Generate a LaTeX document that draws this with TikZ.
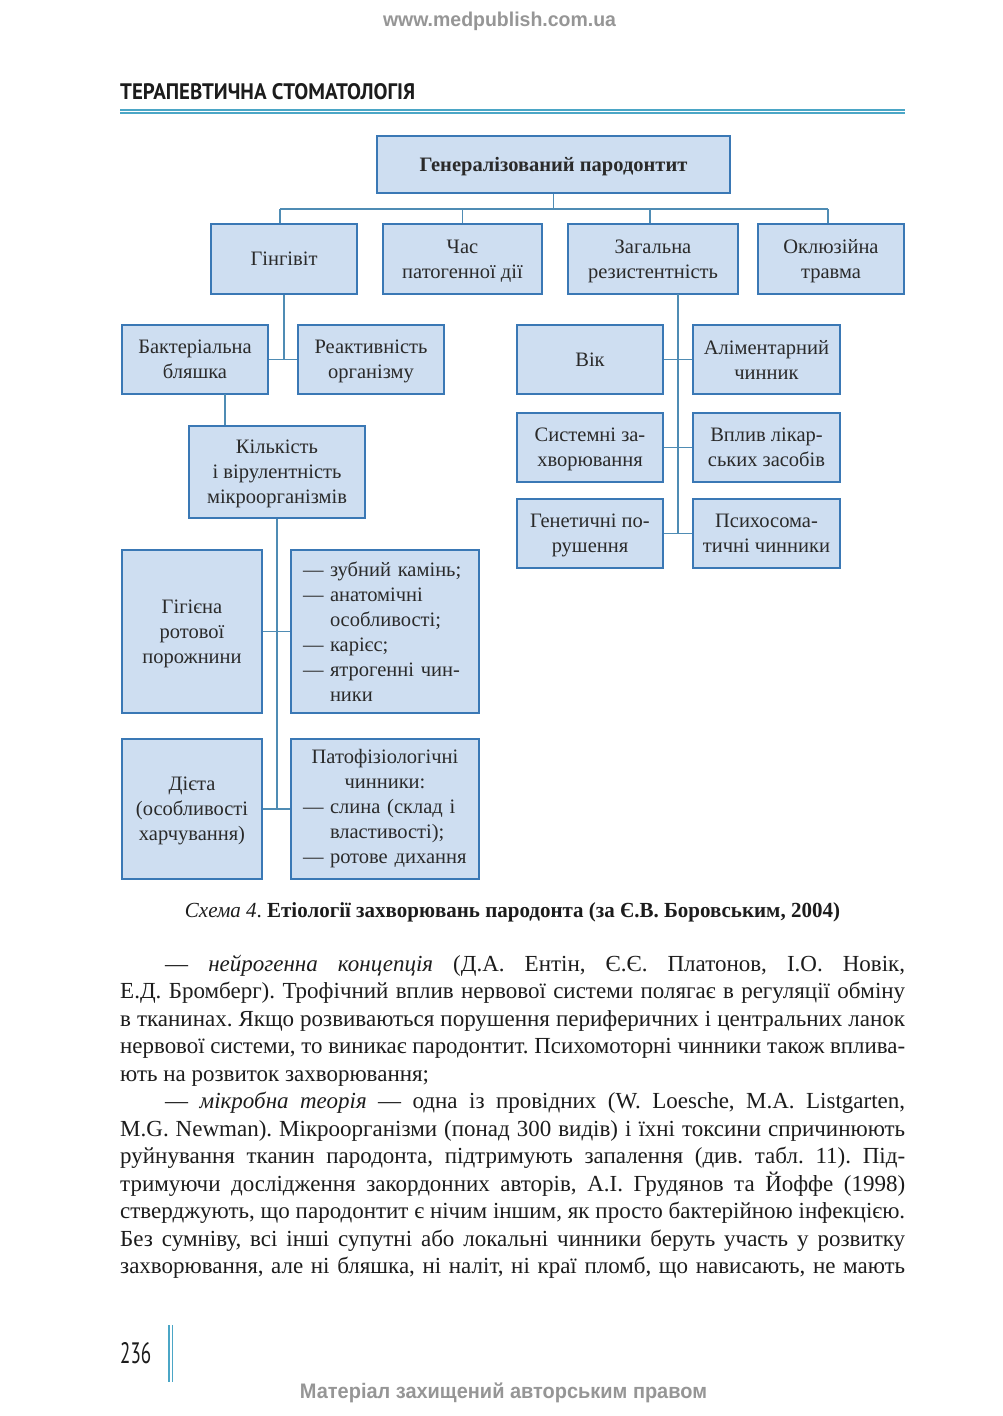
\documentclass[tikz,border=0pt]{standalone}
\usepackage{fontspec}
\usepackage{graphicx}
\setmainfont{Liberation Serif}
\setsansfont{Liberation Sans}
\newfontfamily\headfont{PT Sans}
\newfontfamily\bodyfont{Liberation Serif}
\frenchspacing
\definecolor{boxfill}{HTML}{CEDEF1}
\definecolor{boxborder}{HTML}{3A78B5}
\definecolor{connc}{HTML}{4F8CB4}
\definecolor{rulec}{HTML}{4BA6C6}
\definecolor{wmgray}{HTML}{969696}
\definecolor{dtext}{HTML}{2A2A2A}
\definecolor{bodyc}{HTML}{1C1C1C}
\newcommand\dfont{\fontsize{20.5}{25}\selectfont\frenchspacing}
\newcommand\btext{\bodyfont\fontsize{23}{27.5}\selectfont\frenchspacing}
\newlength\jw
\newcommand\jl[2]{\settowidth\jw{#2}\ifdim\jw>#1\relax\resizebox{#1}{\height}{#2}\else\makebox[#1][s]{#2}\fi}
\newcommand\dl{\makebox[27pt][l]{—}}
\newcommand\hg{\hspace*{27pt}}
\tikzset{
  boxbase/.style={draw=boxborder, fill=boxfill, line width=1.4pt, inner sep=0pt, font=\dfont, text=dtext},
  box/.style={boxbase, align=center, text depth=0pt},
  lbox/.style={boxbase, text width=164pt, align=left},
  conn/.style={draw=connc, line width=1.3pt},
  bline/.style={anchor=base west, inner sep=0pt, font=\btext, text=bodyc},
}
\begin{document}
\begin{tikzpicture}[x=1pt,y=-1pt]
\fill[white] (0,0) rectangle (1003,1416);
\useasboundingbox (0,0) rectangle (1003,1416);

% page furniture
\node[anchor=base, inner sep=0pt, text=wmgray] (wm) at (499.5,27) {\resizebox{233pt}{\height}{\fontsize{20}{20}\sffamily\bfseries www.medpublish.com.ua}};
\node[anchor=base west, inner sep=0pt, text=bodyc] (hdr) at (120,99) {\resizebox{295pt}{16pt}{\headfont\bfseries ТЕРАПЕВТИЧНА СТОМАТОЛОГІЯ}};
\draw[rulec, line width=2pt] (120,109.5) -- (905,109.5);
\draw[rulec, line width=2pt] (120,113.4) -- (905,113.4);

% diagram boxes
\node[box, minimum width=353pt, minimum height=57pt] (top) at (553.5,164.5) {\bfseries Генералізований пародонтит};
\node[box, minimum width=146pt, minimum height=70pt] (ging) at (284,259) {Гінгівіт};
\node[box, minimum width=159pt, minimum height=70pt] (chas) at (462.5,259) {Час\\патогенної дії};
\node[box, minimum width=170pt, minimum height=70pt] (zag) at (653,259) {Загальна\\резистентність};
\node[box, minimum width=146pt, minimum height=70pt] (okl) at (831,259) {Оклюзійна\\травма};

\node[box, minimum width=146pt, minimum height=69pt] (bakt) at (195,359.5) {Бактеріальна\\бляшка};
\node[box, minimum width=146pt, minimum height=69pt] (reakt) at (371,359.5) {Реактивність\\організму};
\node[box, minimum width=176pt, minimum height=92pt] (kilk) at (277,472) {Кількість\\і вірулентність\\мікроорганізмів};

\node[box, minimum width=140pt, minimum height=163pt] (gig) at (192,631.5) {Гігієна\\ротової\\порожнини};
\node[lbox, minimum width=188pt, minimum height=163pt] (list) at (385,631.5)
  {\dl зубний камінь;\\\dl анатомічні\\\hg особливості;\\\dl карієс;\\\dl ятрогенні чин-\\\hg ники};
\node[box, minimum width=140pt, minimum height=140pt] (dieta) at (192,809) {Дієта\\(особливості\\харчування)};
\node[lbox, minimum width=188pt, minimum height=140pt] (pato) at (385,809)
  {\makebox[164pt]{Патофізіологічні}\\\makebox[164pt]{чинники:}\\\dl слина (склад і\\\hg властивості);\\\dl ротове дихання};

\node[box, minimum width=146pt, minimum height=69pt] (vik) at (590,359.5) {Вік};
\node[box, minimum width=147pt, minimum height=69pt] (alim) at (766.5,359.5) {Аліментарний\\чинник};
\node[box, minimum width=146pt, minimum height=69pt] (sys) at (590,447.5) {Системні за-\\хворювання};
\node[box, minimum width=147pt, minimum height=69pt] (vpl) at (766.5,447.5) {Вплив лікар-\\ських засобів};
\node[box, minimum width=146pt, minimum height=69pt] (gen) at (590,533.5) {Генетичні по-\\рушення};
\node[box, minimum width=147pt, minimum height=69pt] (psy) at (766.5,533.5) {Психосома-\\тичні чинники};

% connectors
\coordinate (bL) at (280,209);
\coordinate (bR) at (828,209);
\coordinate (bZ) at (650,209);
\draw[conn] (bL) -- (bR);
\draw[conn] (top.south) -- (top.south |- bL);
\draw[conn] (bL) -- (bL |- ging.north);
\draw[conn] (chas.north) -- (chas.north |- bL);
\draw[conn] (bZ) -- (bZ |- zag.north);
\draw[conn] (bR) -- (bR |- okl.north);

\draw[conn] (ging.south) -- (ging.south |- bakt.east);
\draw[conn] (bakt.east) -- (reakt.west);
\coordinate (bk) at (225,394);
\draw[conn] (bk) -- (bk |- kilk.north);
\draw[conn] (kilk.south) -- (kilk.south |- dieta.east);
\draw[conn] (gig.east) -- (list.west);
\draw[conn] (dieta.east) -- (pato.west);

\coordinate (zr) at (678,294);
\draw[conn] (zr) -- (zr |- gen.east);
\draw[conn] (vik.east) -- (alim.west);
\draw[conn] (sys.east) -- (vpl.west);
\draw[conn] (gen.east) -- (psy.west);

% caption
\node[anchor=base, inner sep=0pt, text=bodyc] (cap) at (512.5,917) {\resizebox{655pt}{\height}{\bodyfont\fontsize{21.5}{25}\selectfont\textit{Схема 4}. \textbf{Етіології захворювань пародонта (за Є.В. Боровським, 2004)}}};

% body text
\node[bline] (l1) at (165,971) {\jl{740pt}{— \textit{нейрогенна концепція} (Д.А. Ентін, Є.Є. Платонов, І.О. Новік,}};
\node[bline] (l2) at (120,998.5) {\jl{785pt}{Е.Д. Бромберг). Трофічний вплив нервової системи полягає в регуляції обміну}};
\node[bline] (l3) at (120,1026) {\jl{785pt}{в тканинах. Якщо розвиваються порушення периферичних і центральних ланок}};
\node[bline] (l4) at (120,1053.5) {\jl{785pt}{нервової системи, то виникає пародонтит. Психомоторні чинники також вплива-}};
\node[bline] (l5) at (120,1081) {ють на розвиток захворювання;};
\node[bline] (l6) at (165,1108.5) {\jl{740pt}{— \textit{мікробна теорія} — одна із провідних (W. Loesche, M.A. Listgarten,}};
\node[bline] (l7) at (120,1136) {\jl{785pt}{M.G. Newman). Мікроорганізми (понад 300 видів) і їхні токсини спричинюють}};
\node[bline] (l8) at (120,1163.5) {\jl{785pt}{руйнування тканин пародонта, підтримують запалення (див. табл. 11). Під-}};
\node[bline] (l9) at (120,1191) {\jl{785pt}{тримуючи дослідження закордонних авторів, А.І. Грудянов та Йоффе (1998)}};
\node[bline] (l10) at (120,1218.5) {\jl{785pt}{стверджують, що пародонтит є нічим іншим, як просто бактерійною інфекцією.}};
\node[bline] (l11) at (120,1246) {\jl{785pt}{Без сумніву, всі інші супутні або локальні чинники беруть участь у розвитку}};
\node[bline] (l12) at (120,1273.5) {\jl{785pt}{захворювання, але ні бляшка, ні наліт, ні краї пломб, що нависають, не мають}};

% footer
\node[anchor=base west, inner sep=0pt, text=bodyc] (pg) at (120,1363) {\resizebox{31pt}{21pt}{\headfont 236}};
\draw[rulec, line width=1.5pt] (169,1325) -- (169,1382);
\draw[rulec, line width=1.5pt] (172.5,1325) -- (172.5,1382);
\node[anchor=base, inner sep=0pt, text=wmgray] (wm2) at (503.5,1398) {\resizebox{407pt}{\height}{\fontsize{21}{21}\sffamily\bfseries Матеріал захищений авторським правом}};
\end{tikzpicture}
\end{document}
